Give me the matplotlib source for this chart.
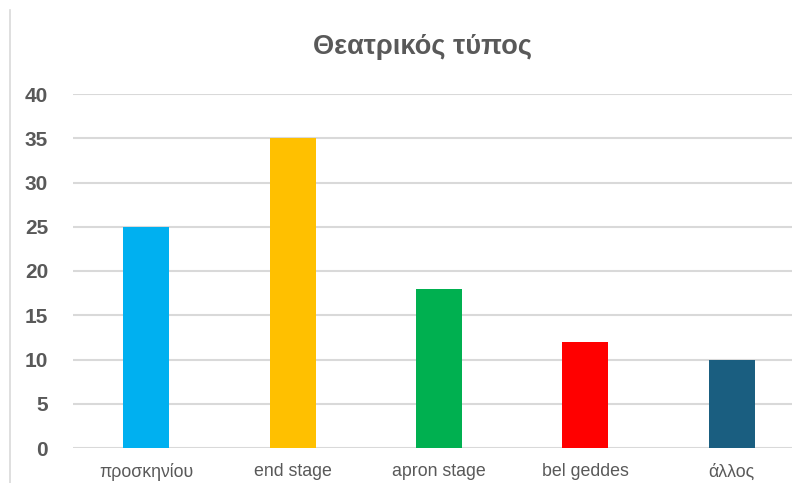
import matplotlib.pyplot as plt
from matplotlib.lines import Line2D
from matplotlib import font_manager

categories = ['προσκηνίου', 'end stage', 'apron stage', 'bel geddes', 'άλλος']
values = [25, 35, 18, 12, 10]
colors = ['#00B0F0', '#FFC000', '#00B050', '#FF0000', '#1A5E80']
yticks = [0, 5, 10, 15, 20, 25, 30, 35, 40]

# narrow font for category labels if available
try:
    font_manager.findfont('Liberation Sans Narrow', fallback_to_default=False)
    cat_family = ['Liberation Sans Narrow', 'DejaVu Sans']
    cat_size = 13
except ValueError:
    cat_family = ['Liberation Sans', 'DejaVu Sans']
    cat_size = 12.8

W, H = 792, 483
fig = plt.figure(figsize=(W / 100, H / 100), dpi=100)

# plot area: x from 73px, zero line at 448px, 40 at 94px
ax = fig.add_axes([73 / W, (H - 448) / H, 732 / W, (448 - 94) / H])

ax.bar(range(len(values)), values, width=0.315, color=colors, zorder=3)
ax.set_xlim(-0.5, len(values) - 0.5)
ax.set_ylim(0, 40)
ax.set_yticks(yticks)
ax.set_xticks(range(len(categories)))
ax.set_xticklabels(categories, fontsize=cat_size, color='#595959', family=cat_family)
ax.set_yticklabels([str(t) for t in yticks], fontsize=15, fontweight='bold',
                   color='#595959', family=['Liberation Sans', 'DejaVu Sans'])
ax.tick_params(axis='both', length=0)
ax.tick_params(axis='y', pad=18)
ax.tick_params(axis='x', pad=11)
ax.grid(axis='y', color='#D9D9D9', linewidth=1.5, zorder=0)
ax.set_axisbelow(True)
for s in ax.spines.values():
    s.set_visible(False)

fig.text(422 / W, 1 - 47 / H, 'Θεατρικός τύπος', ha='center', va='center',
         fontsize=19.6, fontweight='bold', color='#595959',
         family=['Liberation Sans', 'DejaVu Sans'])

# chart border fragment on the left
fig.add_artist(Line2D([10 / W, 10 / W], [0, 1 - 10 / H], color='#D9D9D9',
                      linewidth=1.2, transform=fig.transFigure))

fig.savefig('out.png', dpi=100)
